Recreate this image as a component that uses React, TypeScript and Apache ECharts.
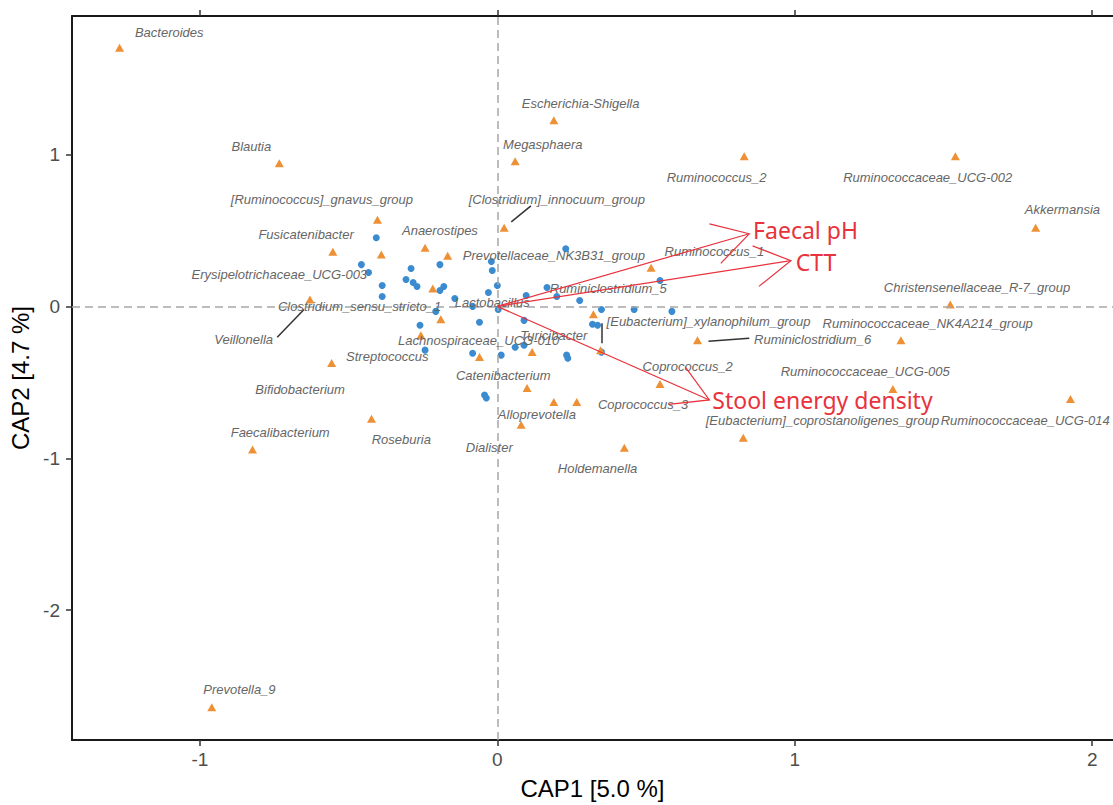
import React, { useEffect, useRef } from "react";
import * as echarts from "echarts";

// Axis ticks
const xTickValues = [-1, 0, 1, 2];
const yTickValues = [-2, -1, 0, 1];
const X_MIN = -1.43;
const X_MAX = 2.07;
const Y_MIN = -2.855;
const Y_MAX = 1.912;

// Sample scores (blue circles)
const siteX = [-0.407, -0.457, -0.433, -0.387, -0.387, -0.29, -0.307, -0.283, -0.27, -0.193, -0.18, -0.193, -0.143, -0.083, -0.207, -0.26, -0.06, -0.02, -0.017, 0.0, -0.03, 0.23, 0.097, 0.167, 0.2, 0.277, 0.003, 0.09, 0.35, 0.46, 0.547, 0.587, 0.32, 0.337, -0.243, -0.083, 0.013, 0.06, 0.09, 0.233, 0.237, -0.043, -0.037, 0.35];
const siteY = [0.452, 0.275, 0.223, 0.138, 0.065, 0.249, 0.177, 0.157, 0.131, 0.275, 0.131, 0.105, 0.052, 0.0, -0.033, -0.124, -0.105, 0.295, 0.236, 0.138, 0.092, 0.38, 0.072, 0.124, 0.065, 0.039, -0.02, -0.092, -0.02, -0.02, 0.17, -0.033, -0.118, -0.124, -0.288, -0.308, -0.321, -0.269, -0.256, -0.321, -0.341, -0.583, -0.603, -0.301];

// Genus scores (orange triangles)
const genusX = [-1.27, -0.733, -0.403, -0.553, -0.39, -0.243, -0.167, -0.217, -0.19, 0.06, 0.19, 0.023, 0.83, 1.54, 1.81, 0.517, 1.523, 1.357, 0.673, 1.33, 1.927, 0.827, 0.547, 0.19, 0.267, 0.427, 0.08, 0.1, 0.117, -0.06, 0.323, 0.347, -0.257, -0.557, -0.423, -0.823, -0.63, -0.96];
const genusY = [1.703, 0.943, 0.57, 0.36, 0.341, 0.386, 0.334, 0.118, -0.085, 0.956, 1.225, 0.517, 0.989, 0.989, 0.517, 0.255, 0.013, -0.223, -0.223, -0.544, -0.609, -0.865, -0.511, -0.629, -0.629, -0.93, -0.779, -0.537, -0.301, -0.334, -0.052, -0.288, -0.19, -0.373, -0.74, -0.943, 0.046, -2.639];

// Genus labels (repelled positions, data units)
const labelText = [
  "Bacteroides", "Blautia", "[Ruminococcus]_gnavus_group", "Fusicatenibacter", "Erysipelotrichaceae_UCG-003",
  "Anaerostipes", "Escherichia-Shigella", "Megasphaera", "[Clostridium]_innocuum_group", "Prevotellaceae_NK3B31_group",
  "Ruminococcus_2", "Ruminococcaceae_UCG-002", "Akkermansia", "Ruminococcus_1", "Christensenellaceae_R-7_group",
  "Ruminiclostridium_5", "Lactobacillus", "Clostridium_sensu_stricto_1", "Veillonella", "[Eubacterium]_xylanophilum_group",
  "Ruminiclostridium_6", "Ruminococcaceae_NK4A214_group", "Lachnospiraceae_UCG-010", "Turicibacter", "Streptococcus",
  "Bifidobacterium", "Catenibacterium", "Coprococcus_2", "Coprococcus_3", "Alloprevotella",
  "Roseburia", "Faecalibacterium", "Dialister", "Holdemanella", "Ruminococcaceae_UCG-005",
  "[Eubacterium]_coprostanoligenes_group", "Ruminococcaceae_UCG-014", "Prevotella_9",
];
const labelX = [-1.103, -0.827, -0.59, -0.643, -0.733, -0.193, 0.28, 0.153, 0.2, 0.19, 0.737, 1.447, 1.9, 0.73, 1.613, 0.373, -0.017, -0.463, -0.853, 0.71, 1.06, 1.447, -0.063, 0.19, -0.37, -0.663, 0.02, 0.64, 0.49, 0.133, -0.323, -0.73, -0.027, 0.337, 1.237, 1.093, 1.775, -0.867];
const labelY = [1.801, 1.054, 0.707, 0.472, 0.21, 0.498, 1.336, 1.067, 0.707, 0.334, 0.851, 0.851, 0.635, 0.36, 0.124, 0.118, 0.026, 0.0, -0.216, -0.098, -0.216, -0.111, -0.223, -0.19, -0.327, -0.544, -0.452, -0.393, -0.648, -0.714, -0.878, -0.832, -0.93, -1.067, -0.426, -0.753, -0.753, -2.521];

// Label leader segments
const leaderX1 = [0.047, -0.74, 0.35, 0.71];
const leaderY1 = [0.557, -0.203, -0.111, -0.229];
const leaderX2 = [0.113, -0.65, 0.35, 0.847];
const leaderY2 = [0.662, -0.02, -0.242, -0.21];

// Environmental vectors
const envNames = ["Faecal pH", "CTT", "Stool energy density"];
const envX = [0.847, 0.987, 0.713];
const envY = [0.478, 0.301, -0.616];
const envLabelX = [0.86, 1.003, 0.723];
const envLabelY = [0.504, 0.295, -0.616];

const FONT = "'Liberation Sans', Arial, sans-serif";
const RED = "#e8323c";
const ORANGE = "#ee9136";
const BLUE = "#3b8bd0";

export default function App() {
  const ref = useRef<HTMLDivElement>(null);

  useEffect(() => {
    const chart = echarts.init(ref.current as HTMLDivElement, null, { renderer: "svg" });

    const axisLineStyle = { color: "#1a1a1a", width: 2 };
    const tickStyle = { color: "#333333", width: 1.5 };

    chart.setOption({
      animation: false,
      backgroundColor: "#ffffff",
      grid: { left: 70, top: 16, width: 1050, height: 728, containLabel: false },
      xAxis: [
        {
          type: "value",
          min: X_MIN,
          max: X_MAX,
          position: "bottom",
          name: "CAP1 [5.0 %]",
          nameLocation: "middle",
          nameGap: 36,
          nameTextStyle: { color: "#000000", fontSize: 24, fontFamily: FONT },
          axisLine: { show: true, onZero: false, lineStyle: axisLineStyle },
          axisTick: { show: true, length: 6, customValues: xTickValues, lineStyle: tickStyle },
          axisLabel: { customValues: xTickValues, color: "#4d4d4d", fontSize: 19, margin: 10, fontFamily: FONT },
          splitLine: { show: false },
        },
        {
          type: "value",
          min: X_MIN,
          max: X_MAX,
          position: "top",
          axisLine: { show: true, onZero: false, lineStyle: axisLineStyle },
          axisTick: { show: true, length: 6, customValues: xTickValues, lineStyle: tickStyle },
          axisLabel: { show: false },
          splitLine: { show: false },
        },
      ],
      yAxis: [
        {
          type: "value",
          min: Y_MIN,
          max: Y_MAX,
          position: "left",
          name: "CAP2 [4.7 %]",
          nameLocation: "middle",
          nameGap: 40,
          nameTextStyle: { color: "#000000", fontSize: 24, fontFamily: FONT },
          axisLine: { show: true, onZero: false, lineStyle: axisLineStyle },
          axisTick: { show: true, length: 6, customValues: yTickValues, lineStyle: tickStyle },
          axisLabel: { customValues: yTickValues, color: "#4d4d4d", fontSize: 19, margin: 12, fontFamily: FONT },
          splitLine: { show: false },
        },
      ],
      series: [
        {
          type: "scatter",
          data: [],
          z: 1,
          silent: true,
          markLine: {
            silent: true,
            symbol: ["none", "none"],
            label: { show: false },
            lineStyle: { color: "#a6a6a6", type: [8, 5], width: 1.5 },
            emphasis: { disabled: true },
            data: [{ xAxis: 0 }, { yAxis: 0 }],
          },
        },
        {
          name: "samples",
          type: "scatter",
          z: 2,
          symbol: "circle",
          symbolSize: 7,
          itemStyle: { color: BLUE, opacity: 1 },
          data: siteX.map((x, i) => [x, siteY[i]]),
        },
        {
          name: "genera",
          type: "scatter",
          z: 3,
          symbol: "triangle",
          symbolSize: [9, 8],
          itemStyle: { color: ORANGE, opacity: 1 },
          data: genusX.map((x, i) => [x, genusY[i]]),
        },
        {
          type: "lines",
          coordinateSystem: "cartesian2d",
          z: 4,
          silent: true,
          lineStyle: { color: "#333333", width: 1.5, opacity: 1 },
          data: leaderX1.map((x, i) => ({ coords: [[x, leaderY1[i]], [leaderX2[i], leaderY2[i]]] })),
        },
        {
          type: "custom",
          coordinateSystem: "cartesian2d",
          z: 5,
          clip: false,
          silent: true,
          encode: { x: 0, y: 1 },
          data: labelX.map((x, i) => [x, labelY[i]]),
          renderItem: (params: any, api: any) => {
            const p = api.coord([api.value(0), api.value(1)]);
            return {
              type: "text",
              x: p[0],
              y: p[1],
              style: {
                text: labelText[params.dataIndex],
                fill: "#666666",
                font: "italic 13px " + FONT,
                align: "center",
                verticalAlign: "middle",
              },
            };
          },
        },
        {
          type: "custom",
          coordinateSystem: "cartesian2d",
          z: 6,
          clip: false,
          silent: true,
          encode: { x: 0, y: 1 },
          data: envX.map((x, i) => [x, envY[i]]),
          renderItem: (params: any, api: any) => {
            const i = params.dataIndex;
            const o = api.coord([0, 0]);
            const t = api.coord([api.value(0), api.value(1)]);
            const ang = Math.atan2(t[1] - o[1], t[0] - o[0]);
            const L = 41;
            const a = Math.PI / 6;
            const w1 = [t[0] - L * Math.cos(ang - a), t[1] - L * Math.sin(ang - a)];
            const w2 = [t[0] - L * Math.cos(ang + a), t[1] - L * Math.sin(ang + a)];
            const lp = api.coord([envLabelX[i], envLabelY[i]]);
            return {
              type: "group",
              children: [
                {
                  type: "line",
                  shape: { x1: o[0], y1: o[1], x2: t[0], y2: t[1] },
                  style: { stroke: RED, lineWidth: 1.2 },
                },
                {
                  type: "polyline",
                  shape: { points: [w1, t, w2] },
                  style: { stroke: RED, fill: null, lineWidth: 1.2 },
                },
                {
                  type: "text",
                  x: lp[0],
                  y: lp[1],
                  style: {
                    text: envNames[i],
                    fill: RED,
                    font: "23px 'Noto Sans', 'Open Sans', sans-serif",
                    align: "left",
                    verticalAlign: "middle",
                  },
                },
              ],
            };
          },
        },
      ],
    });

    return () => {
      chart.dispose();
    };
  }, []);

  return (
    <div
      ref={ref}
      style={{ position: "absolute", left: 0, top: 0, width: 1113, height: 805, background: "#ffffff" }}
    />
  );
}
